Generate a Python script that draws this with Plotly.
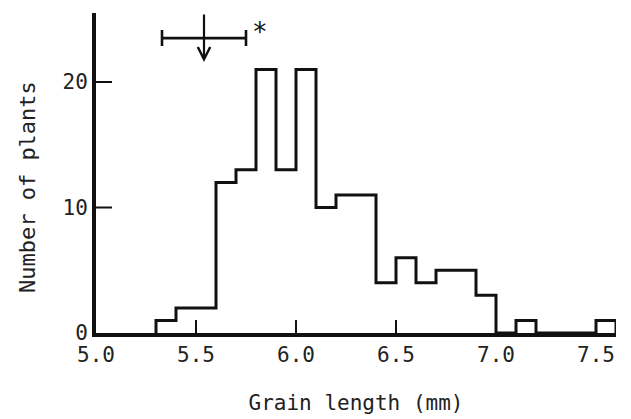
import plotly.graph_objects as go

# Histogram bins (left edges, mm) and counts
bin_edges = [5.3, 5.4, 5.5, 5.6, 5.7, 5.8, 5.9, 6.0, 6.1, 6.2, 6.3, 6.4, 6.5,
             6.6, 6.7, 6.8, 6.9, 7.0, 7.1, 7.2, 7.3, 7.4, 7.5, 7.6]
counts = [1, 2, 2, 12, 13, 21, 13, 21, 10, 11, 11, 4, 6, 4, 5, 5, 3, 0, 1, 0, 0, 0, 1]

# Parent mean and range marker
parent_mean = 5.54
parent_half_range = 0.21
marker_y = 23.5

x_ticks = [5.0, 5.5, 6.0, 6.5, 7.0, 7.5]
x_ticktext = ["5.0", "5.5", "6.0", "6.5", "7.0", "7.5"]
y_ticks = [0, 10, 20]

X_RANGE = [5.0, 7.6]
Y_RANGE = [0, 25.5]
PLOT_W, PLOT_H = 520, 320
X_TICKLEN, Y_TICKLEN = 13, 16

# step outline
xs = [bin_edges[0]] + bin_edges
ys = [0] + counts + [0]

INK = "#111111"
TXT = "#222222"
MONO = "DejaVu Sans Mono"

# tick marks as line segments built from the tick lists (lengths converted from px)
x_tick_len_units = X_TICKLEN * (Y_RANGE[1] - Y_RANGE[0]) / PLOT_H
y_tick_len_units = Y_TICKLEN * (X_RANGE[1] - X_RANGE[0]) / PLOT_W
tx, ty = [], []
for v in x_ticks[1:]:
    tx += [v, v, None]
    ty += [Y_RANGE[0], Y_RANGE[0] + x_tick_len_units, None]
for v in y_ticks[1:]:
    tx += [X_RANGE[0], X_RANGE[0] + y_tick_len_units, None]
    ty += [v, v, None]

fig = go.Figure()
fig.add_trace(go.Scatter(x=xs, y=ys, mode="lines", line=dict(shape="hv", color=INK, width=3),
                         hoverinfo="skip", showlegend=False))
fig.add_trace(go.Scatter(x=tx, y=ty, mode="lines", line=dict(color=INK, width=2),
                         hoverinfo="skip", showlegend=False, connectgaps=False))
fig.add_trace(go.Scatter(x=[parent_mean], y=[marker_y], mode="markers",
                         marker=dict(size=1, color="rgba(0,0,0,0)"),
                         error_x=dict(type="constant", value=parent_half_range, color=INK,
                                      thickness=2.6, width=8),
                         showlegend=False, hoverinfo="skip"))

fig.add_annotation(x=parent_mean, y=21.6, ax=parent_mean, ay=25.5, xref="x", yref="y",
                   axref="x", ayref="y", showarrow=True, arrowhead=5, arrowsize=1.1,
                   arrowwidth=2.2, arrowcolor=INK, text="")
fig.add_annotation(x=5.82, y=24.0, xref="x", yref="y", text="*", showarrow=False,
                   font=dict(family=MONO, size=26, color=INK))
# y-axis title (placed slightly below the plot centre, as in the original)
fig.add_annotation(x=-0.1327, y=0.456, xref="paper", yref="paper", text="Number of plants",
                   textangle=-90, showarrow=False, xanchor="center", yanchor="middle",
                   font=dict(family=MONO, size=22, color=TXT))

fig.update_layout(
    template="none",
    width=631, height=419,
    margin=dict(l=96, r=15, t=13, b=86, autoexpand=False),
    paper_bgcolor="white", plot_bgcolor="white",
    xaxis=dict(range=X_RANGE, tickvals=x_ticks, ticktext=x_ticktext, automargin=False,
               showline=True, linewidth=4, linecolor=INK, mirror=False,
               ticks="", showgrid=False, zeroline=False,
               tickfont=dict(family=MONO, size=21, color=TXT),
               title=dict(text="Grain length (mm)", font=dict(family=MONO, size=21, color=TXT),
                          standoff=30)),
    yaxis=dict(range=Y_RANGE, tickvals=y_ticks, automargin=False,
               showline=True, linewidth=4, linecolor=INK,
               ticks="", showgrid=False, zeroline=False,
               tickfont=dict(family=MONO, size=21, color=TXT)),
)

fig.write_html("out.html", config={"displayModeBar": False},
               post_script="document.body.style.margin='0';document.body.style.overflow='hidden';")
